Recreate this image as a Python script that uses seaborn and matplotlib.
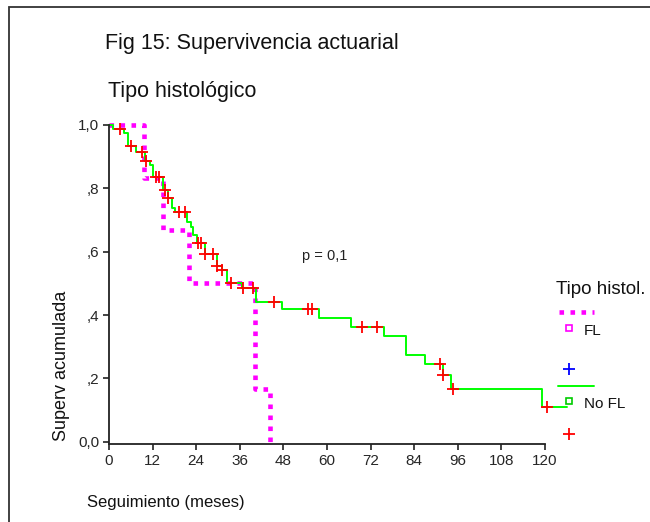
import numpy as np
import pandas as pd
import matplotlib
matplotlib.use("Agg")
import matplotlib.pyplot as plt
import seaborn as sns
from matplotlib.lines import Line2D
from matplotlib.patches import Rectangle

# Survival steps
fl_time = [0, 9.5, 15.0, 22.0, 40.3, 44.3]
fl_surv = [1.0, 0.833, 0.667, 0.5, 0.167, 0.0]

nofl_time = [0, 1.2, 4.2, 5.1, 7.3, 10.0, 11.4, 12.1, 14.8, 16.2, 17.3, 18.2,
             21.5, 22.5, 23.1, 24.1, 26.4, 29.6, 31.2, 32.5, 36.5, 40.4, 47.5,
             57.7, 66.7, 75.7, 81.8, 87.0, 92.0, 94.1, 119.2, 126.0]
nofl_surv = [1.0, 0.987, 0.975, 0.935, 0.914, 0.887, 0.875, 0.835, 0.796, 0.770,
             0.737, 0.726, 0.695, 0.679, 0.653, 0.626, 0.593, 0.555, 0.543,
             0.502, 0.484, 0.442, 0.418, 0.390, 0.363, 0.335, 0.274, 0.244,
             0.211, 0.165, 0.111, 0.111]

cens_time = [3.1, 6.1, 9.1, 10.2, 13.0, 13.9, 15.3, 16.2, 19.4, 20.8, 24.5,
             25.2, 26.4, 28.7, 29.6, 31.0, 33.7, 37.0, 39.7, 45.5, 54.9, 55.8,
             69.7, 73.8, 91.0, 91.8, 94.8, 120.5]
cens_surv = [0.987, 0.935, 0.914, 0.887, 0.835, 0.835, 0.796, 0.770, 0.726,
             0.726, 0.626, 0.626, 0.593, 0.593, 0.555, 0.543, 0.502, 0.484,
             0.484, 0.442, 0.418, 0.418, 0.363, 0.363, 0.244, 0.211, 0.165,
             0.111]

x_ticks = [0, 12, 24, 36, 48, 60, 72, 84, 96, 108, 120]
y_ticks = [0.0, 0.2, 0.4, 0.6, 0.8, 1.0]
y_labels = ["0,0", ",2", ",4", ",6", ",8", "1,0"]

fl = pd.DataFrame({"t": fl_time, "s": fl_surv})
nofl = pd.DataFrame({"t": nofl_time, "s": nofl_surv})
cens = pd.DataFrame({"t": cens_time, "s": cens_surv})

sns.set_style("white")
plt.rcParams["font.family"] = ["Liberation Sans", "DejaVu Sans"]

W, H = 650, 522
fig = plt.figure(figsize=(6.5, 5.22), dpi=100)

# axes placed in pixel terms
x0, xs = 109, 3.633
y0, ys = 441.7, 316.7
ylow = -0.008
xmax = 130
bottom_px = y0 - ylow * ys
ax = fig.add_axes([x0 / W, 1 - bottom_px / H, xmax * xs / W, (bottom_px - 125) / H])

sns.lineplot(data=fl, x="t", y="s", ax=ax, drawstyle="steps-post", color="#ff00ff",
             linewidth=3.3, linestyle=(0, (1, 1.4)), dash_capstyle="butt",
             estimator=None, sort=False, clip_on=False)
sns.lineplot(data=nofl, x="t", y="s", ax=ax, drawstyle="steps-post", color="#00ff00",
             linewidth=1.4, estimator=None, sort=False, clip_on=False)
sns.scatterplot(data=cens, x="t", y="s", ax=ax, marker="+", s=70, color="#ff0000",
                linewidth=1.3, clip_on=False, zorder=5)

ax.set_xlim(0, xmax)
ax.set_ylim(ylow, 1.0)
ax.set_xticks(x_ticks)
ax.set_yticks(y_ticks)
ax.set_yticklabels(y_labels)
ax.set_xlabel("")
ax.set_ylabel("")
for side in ["top", "right"]:
    ax.spines[side].set_visible(False)
for side in ["left", "bottom"]:
    ax.spines[side].set_color("#222222")
    ax.spines[side].set_linewidth(1.3)
ax.spines["bottom"].set_bounds(0, 120)
ax.tick_params(axis="both", direction="out", length=4, width=1.2, color="#222222",
               labelsize=11, pad=3, left=True, bottom=True)

ax.text(59.5, 0.586, "p = 0,1", fontsize=10.5, ha="center", va="center",
        color="#222222")

def fx(px):
    return px / W

def fy(py):
    return 1 - py / H

# outer frame
fig.add_artist(Rectangle((fx(9), fy(700)), 2, fy(7) - fy(700),
                         transform=fig.transFigure, fill=False,
                         edgecolor="#333333", linewidth=1.3))

fig.text(fx(105), fy(43), "Fig 15: Supervivencia actuarial", fontsize=15.5,
         ha="left", va="center", color="#111111")
fig.text(fx(108), fy(92), "Tipo histológico", fontsize=15.5,
         ha="left", va="center", color="#111111")
fig.text(fx(87), fy(503), "Seguimiento (meses)", fontsize=12,
         ha="left", va="center", color="#111111")
fig.text(fx(62), fy(366), "Superv acumulada", fontsize=13, rotation=90,
         ha="center", va="center", color="#111111")

# legend
fig.text(fx(556), fy(290), "Tipo histol.", fontsize=13.5,
         ha="left", va="center", color="#111111")
fig.add_artist(Line2D([fx(559), fx(594)], [fy(312), fy(312)], transform=fig.transFigure,
                      color="#ff00ff", linewidth=3.3, linestyle=(0, (1, 1.4)),
                      dash_capstyle="butt"))
fig.add_artist(Line2D([fx(569)], [fy(328)], transform=fig.transFigure, marker="s",
                      markersize=4, markerfacecolor="white", markeredgecolor="#ff00ff",
                      markeredgewidth=1.2, linestyle="none"))
fig.text(fx(584), fy(331), "FL", fontsize=11, ha="left", va="center",
         color="#111111")
fig.add_artist(Line2D([fx(569)], [fy(369)], transform=fig.transFigure, marker="+",
                      markersize=8, markeredgecolor="#0000ff", markeredgewidth=1.3,
                      linestyle="none"))
fig.add_artist(Line2D([fx(558), fx(594)], [fy(386), fy(386)], transform=fig.transFigure,
                      color="#00ff00", linewidth=1.4))
fig.add_artist(Line2D([fx(569)], [fy(401)], transform=fig.transFigure, marker="s",
                      markersize=4, markerfacecolor="white", markeredgecolor="#00cc00",
                      markeredgewidth=1.2, linestyle="none"))
fig.text(fx(584), fy(404), "No FL", fontsize=11, ha="left", va="center",
         color="#111111")
fig.add_artist(Line2D([fx(569)], [fy(434)], transform=fig.transFigure, marker="+",
                      markersize=8, markeredgecolor="#ff0000", markeredgewidth=1.3,
                      linestyle="none"))

fig.savefig("out.png", dpi=100)
